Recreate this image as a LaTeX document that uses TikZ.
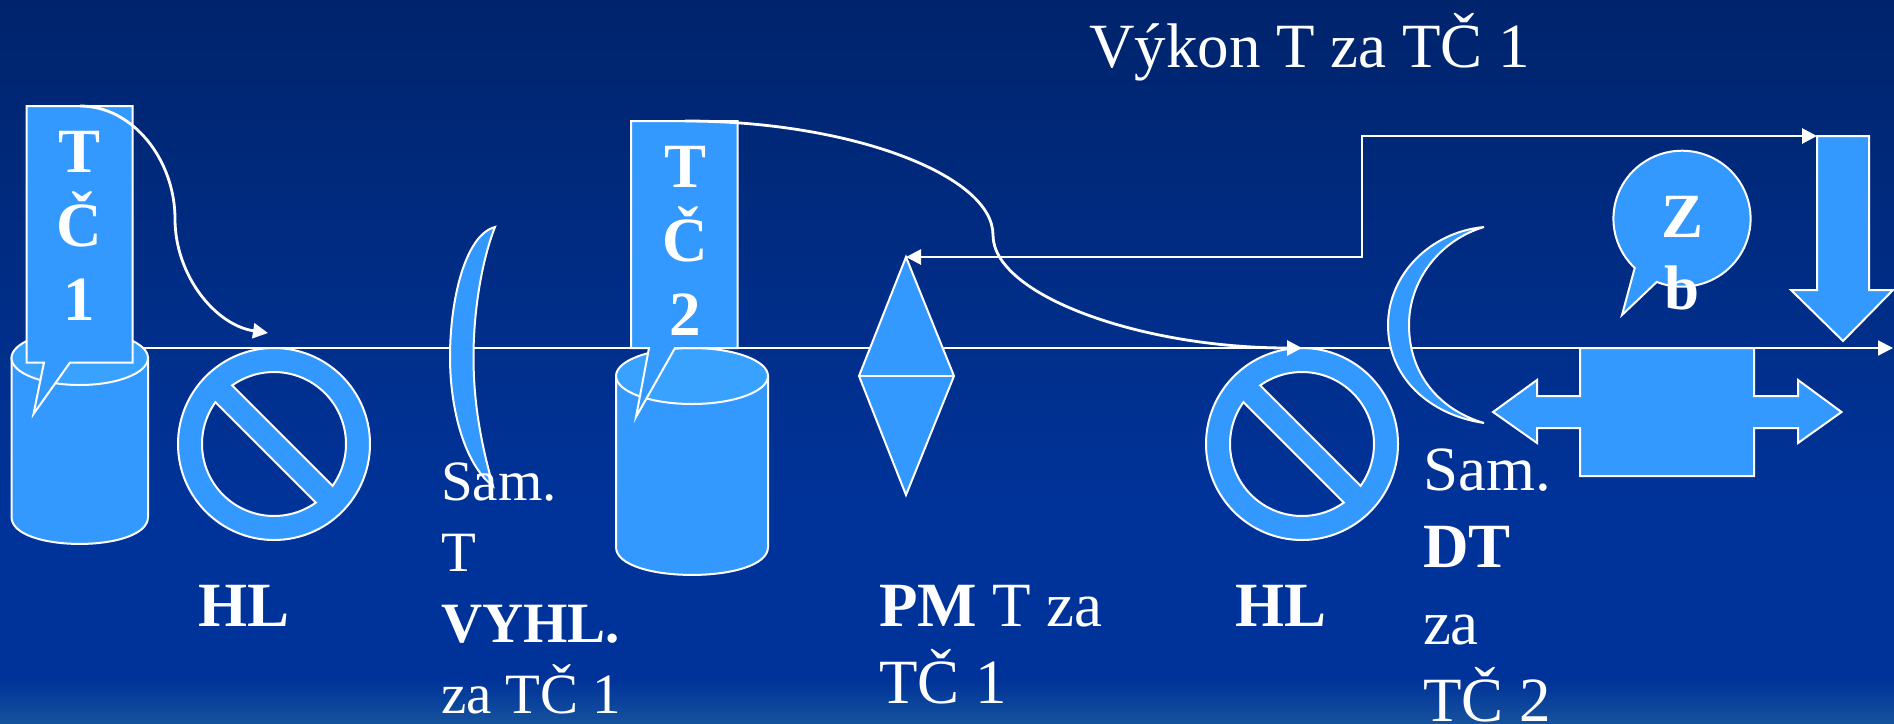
\documentclass[tikz,border=0pt]{standalone}
\usepackage{fontspec}
\setmainfont{Liberation Serif}
\usetikzlibrary{arrows.meta}
\definecolor{fillblue}{HTML}{3399FF}
\definecolor{capblue}{HTML}{39A2FF}
\definecolor{bgA}{HTML}{15529E}
\definecolor{bgB}{HTML}{003399}
\definecolor{bgE}{HTML}{00246C}
\pgfdeclareverticalshading{slidebg}{100bp}{
  color(0bp)=(bgA);
  color(25bp)=(bgA);
  color(28bp)=(bgB);
  color(40bp)=(bgB);
  color(75bp)=(bgE);
  color(100bp)=(bgE)}
\newcommand\cstack[2]{\vtop{\baselineskip=#1pt\halign{\hfil##\hfil\cr#2\crcr}}}
\newcommand\lstack[2]{\vtop{\baselineskip=#1pt\halign{##\hfil\cr#2\crcr}}}
\tikzset{
  x=0.5pt,y=-0.5pt,
  blueshape/.style={fill=fillblue,draw=white,line width=1pt,line join=miter},
  flow/.style={draw=white,line width=1pt,-{Triangle[length=7.5pt,width=7.5pt]}},
  conn/.style={draw=white,line width=1.4pt,-{Triangle[length=7.5pt,width=7.5pt]}},
  conn2/.style={draw=white,line width=1.4pt,{Triangle[length=7.5pt,width=7.5pt]}-{Triangle[length=7.5pt,width=7.5pt]}},
  lbl/.style={text=white,inner sep=0pt,outer sep=0pt,font=\fontsize{31.5}{36}\selectfont},
  lblb/.style={lbl,font=\fontsize{31.5}{36}\selectfont\bfseries},
  lbls/.style={lbl,font=\fontsize{28.5}{36}\selectfont},
}
\newcommand\nosym[3]{% x y name
  \coordinate (#3) at (#1,#2);
  \path[blueshape,even odd rule] (#1,#2) circle[radius=96]
    plot[domain=-125.5:35.5,samples=50] ({#1+72*cos(\x)},{#2+72*sin(\x)}) -- cycle
    plot[domain=54.5:215.5,samples=50] ({#1+72*cos(\x)},{#2+72*sin(\x)}) -- cycle;
}
\newcommand\cyl[6]{% left right cy ry bottomcy name
  \path[blueshape] (#1,#3) -- (#1,#5) .. controls (#1,{#5+#4*1.33}) and (#2,{#5+#4*1.33}) .. (#2,#5) -- (#2,#3) -- cycle;
  \path[blueshape,fill=capblue] ({(#1+#2)/2},#3) ellipse[x radius={(#2-#1)/2},y radius=#4];
  \coordinate (#6) at ({(#1+#2)/2},#3);
}
\begin{document}
\begin{tikzpicture}
\useasboundingbox (0,0) rectangle (1894,723);
\clip (0,0) rectangle (1894,723);
\shade[shading=slidebg] (0,0) rectangle (1894,723);
% coordinates for connector ends
\coordinate (flowStart) at (60,348);
\coordinate (flowEnd) at (1893,348);
\coordinate (tc1top) at (80,106);
\coordinate (hl1top) at (268,333);
\coordinate (tc2top) at (685,121);
\coordinate (hl2top) at (1302,348);
\coordinate (pmTop) at (906,257);
\coordinate (downTop) at (1817,136);
% main flow line
\draw[flow] (flowStart) -- (flowEnd);
% cylinders
\cyl{11.5}{148}{358}{27}{517}{cylA}
\cyl{616}{768}{376}{28}{547}{cylB}
% no-symbols
\nosym{274}{444}{hlA}
\nosym{1302}{444}{hlB}
% callouts
\path[blueshape] (26.5,106) -- (132.5,106) -- (132.5,362.5) -- (70,362.5) -- (33.5,414) -- (44,362.5) -- (26.5,362.5) -- cycle;
\path[blueshape] (631,121) -- (737.5,121) -- (737.5,348) -- (675,348) -- (636,417) -- (649,348) -- (631,348) -- cycle;
% thin crescent
\path[blueshape] (495,227) .. controls (465,235) and (450,300) .. (450,357) .. controls (450,410) and (465,465) .. (493,486) .. controls (480,440) and (473.5,400) .. (473.5,357) .. controls (473.5,310) and (482,260) .. (495,227) -- cycle;
% diamond
\path[blueshape] (906,257) -- (954,376) -- (906,495) -- (859,376) -- cycle;
\path[draw=white,line width=1pt] (859,376) -- (954,376);
% moon
\path[blueshape] (1484,227) .. controls (1430,232) and (1388,275) .. (1388,325) .. controls (1388,378) and (1430,415) .. (1484,423) .. controls (1440,410) and (1409,375) .. (1409,325) .. controls (1409,280) and (1440,240) .. (1484,227) -- cycle;
% oval callout
\path[blueshape] plot[domain=111.6:-226.4,samples=90] ({1682+68.6*cos(\x)},{218.7+68*sin(\x)}) -- (1622,315) -- cycle;
% down arrow
\path[blueshape] (1817,136) -- (1869,136) -- (1869,290) -- (1893,290) -- (1843,341) -- (1791,290) -- (1817,290) -- cycle;
% left-right box
\path[blueshape] (1580,348) -- (1754,348) -- (1754,396) -- (1798,396) -- (1798,380) -- (1841.5,412) -- (1798,443) -- (1798,428) -- (1754,428) -- (1754,476) -- (1580,476) -- (1580,428) -- (1537,428) -- (1537,443) -- (1493,412) -- (1537,380) -- (1537,396) -- (1580,396) -- cycle;
% connectors
\draw[conn] (tc1top) .. controls (133,106) and (175,160) .. (175,219) .. controls (175,275) and (215,325) .. (hl1top);
\draw[conn] (tc2top) .. controls (850,121) and (993,175) .. (993,235) .. controls (993,295) and (1140,348) .. (hl2top);
\draw[conn2] (pmTop) -- (1362,257) -- (1362,136) -- (downTop);
% labels
\node[lbl,anchor=base west] (title) at (1089,67) {Výkon T za TČ 1};
\node[lblb,anchor=base] (tc1) at (79.5,172) {\cstack{37}{T\cr Č\cr 1}};
\node[lblb,anchor=base] (tc2) at (685,187) {\cstack{37}{T\cr Č\cr 2}};
\node[lblb,anchor=base] (zb) at (1682,237) {\cstack{36}{Z\cr b}};
\node[lblb,anchor=base west] (hl1) at (198,626) {HL};
\node[lblb,anchor=base west] (hl2) at (1235,626) {HL};
\node[lbls,anchor=base west] (s1) at (441,500) {\lstack{35.5}{Sam.\cr T\cr \textbf{VYHL.}\cr za TČ 1}};
\node[lbl,anchor=base west] (pm) at (879,626) {\lstack{38.5}{\textbf{PM} T za\cr TČ 1}};
\node[lbl,anchor=base west] (s2) at (1423,490) {\lstack{38.5}{Sam.\cr \textbf{DT}\cr za\cr TČ 2}};
\end{tikzpicture}
\end{document}
